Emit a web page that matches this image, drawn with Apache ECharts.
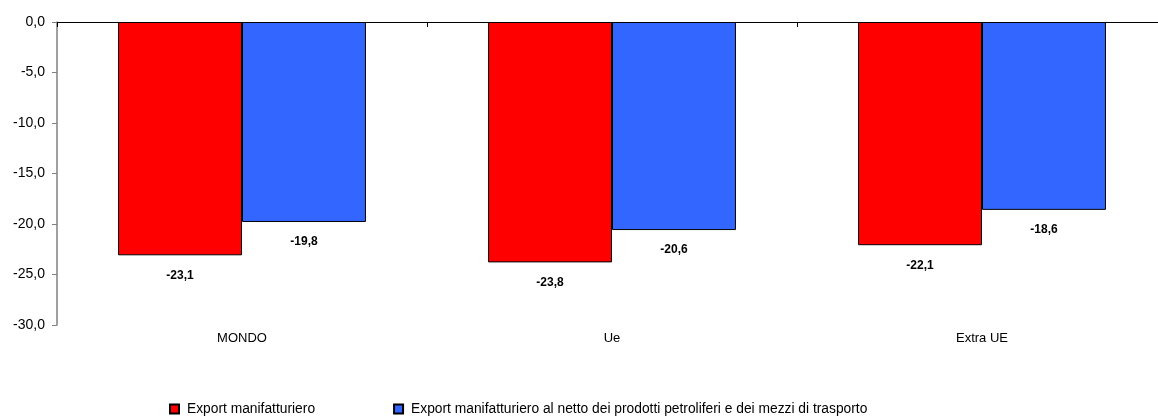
<!DOCTYPE html>
<html>
<head>
<meta charset="utf-8">
<script src="https://cdn.jsdelivr.net/npm/echarts@6/dist/echarts.min.js"></script>
<style>
html,body{margin:0;padding:0;background:#fff;overflow:hidden;width:1158px;height:416px;}
#chart{width:1168px;height:416px;}
</style>
</head>
<body>
<div id="chart"></div>
<script>
const categories = ['MONDO', 'Ue', 'Extra UE'];
const seriesNames = ['Export manifatturiero', 'Export manifatturiero al netto dei prodotti petroliferi e dei mezzi di trasporto'];
const exportManif = [-23.1, -23.8, -22.1];
const exportNetto = [-19.8, -20.6, -18.6];
const yTicks = { min: -30, max: 0, interval: 5 };

const fmt = v => v.toFixed(1).replace('.', ',');
const FONT = 'Liberation Sans, Arial, sans-serif';

const chart = echarts.init(document.getElementById('chart'), null, { renderer: 'canvas' });
chart.setOption({
  animation: false,
  backgroundColor: '#ffffff',
  textStyle: { fontFamily: FONT },
  grid: { left: 57, top: 22, height: 303, right: 1, containLabel: false },
  legend: {
    left: 164, top: 397,
    icon: 'rect', itemWidth: 9, itemHeight: 9, itemGap: 78,
    textStyle: { fontFamily: FONT, fontSize: 13.8, color: '#000', padding: [0, 0, 0, 3] },
    data: seriesNames
  },
  xAxis: [
    {
      type: 'category', data: categories, position: 'bottom',
      axisLine: { show: false }, axisTick: { show: false },
      axisLabel: { margin: 7, fontSize: 13, color: '#000', fontFamily: FONT }
    },
    {
      type: 'category', data: categories, position: 'top',
      axisLine: { show: true, onZero: false, lineStyle: { color: '#000', width: 1 } },
      axisTick: { show: true, inside: true, length: 5, lineStyle: { color: '#000' } },
      axisLabel: { show: false }
    }
  ],
  yAxis: {
    type: 'value', min: yTicks.min, max: yTicks.max, interval: yTicks.interval,
    axisLine: { show: true, lineStyle: { color: '#808080', width: 1.5 } },
    axisTick: { show: true, length: 5, lineStyle: { color: '#808080' } },
    splitLine: { show: false },
    axisLabel: { formatter: fmt, fontSize: 14, color: '#000', margin: 12, fontFamily: FONT }
  },
  series: [
    {
      name: seriesNames[0], type: 'bar', data: exportManif, xAxisIndex: 0,
      barGap: '0%', barCategoryGap: '33%',
      itemStyle: { color: '#FF0000', borderColor: '#000', borderWidth: 1 },
      label: { show: true, position: 'bottom', distance: 14, formatter: p => fmt(p.value), fontWeight: 'bold', fontSize: 12, color: '#000', fontFamily: FONT }
    },
    {
      name: seriesNames[1], type: 'bar', data: exportNetto, xAxisIndex: 0,
      barGap: '0%', barCategoryGap: '33%',
      itemStyle: { color: '#3366FF', borderColor: '#000', borderWidth: 1 },
      label: { show: true, position: 'bottom', distance: 14, formatter: p => fmt(p.value), fontWeight: 'bold', fontSize: 12, color: '#000', fontFamily: FONT }
    }
  ]
});
</script>
</body>
</html>
